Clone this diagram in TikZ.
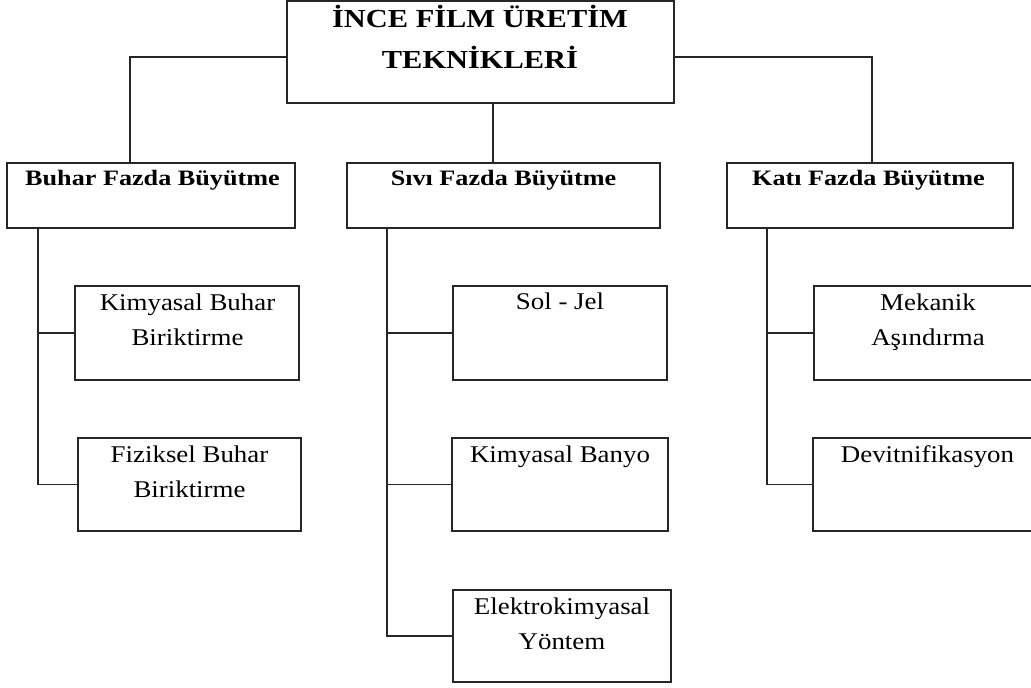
\documentclass[tikz,border=0pt]{standalone}
\usepackage{fontspec}
\setmainfont{Liberation Serif}
\newfontfamily\ttfont[FakeStretch=1.17]{Liberation Serif}
\newfontfamily\tfont[FakeStretch=1.19]{Liberation Serif}
\newfontfamily\cfont[FakeStretch=1.12]{Liberation Serif}
\begin{document}
\begin{tikzpicture}[x=1pt,y=-1pt,
  box/.style={draw=black!85, line width=1.1pt, rectangle, inner sep=0pt},
  conn/.style={draw=black!85, line width=1.1pt},
  titletext/.style={font=\ttfont\bfseries\fontsize{26}{41}\selectfont, align=center, anchor=base, inner sep=0pt},
  cattext/.style={font=\tfont\bfseries\fontsize{22}{25}\selectfont, anchor=base, inner sep=0pt},
  leaftext/.style={font=\cfont\fontsize{24}{34.5}\selectfont, align=center, anchor=base, inner sep=0pt}]
\clip (0,0) rectangle (1031,688);
\fill[white] (0,0) rectangle (1031,688);

% boxes
\node[box, minimum width=387pt, minimum height=102pt] (top) at (480.5,52) {};
\node[box, minimum width=288pt, minimum height=65pt] (buhar) at (151,195.5) {};
\node[box, minimum width=313pt, minimum height=65pt] (sivi) at (503.5,195.5) {};
\node[box, minimum width=286pt, minimum height=65pt] (kati) at (870,195.5) {};
\node[box, minimum width=224pt, minimum height=94pt] (kbb) at (187,333) {};
\node[box, minimum width=223pt, minimum height=93pt] (fbb) at (189.5,484.5) {};
\node[box, minimum width=214pt, minimum height=94pt] (soljel) at (560,333) {};
\node[box, minimum width=216pt, minimum height=93pt] (banyo) at (560,484.5) {};
\node[box, minimum width=218pt, minimum height=92pt] (elektro) at (562,636) {};
\node[box, minimum width=228pt, minimum height=94pt] (mekanik) at (928,333) {};
\node[box, minimum width=229pt, minimum height=93pt] (devit) at (927.5,484.5) {};

% texts (multi-line nodes: base anchor = last line's baseline)
\node[titletext] (ttop) at (480,68) {İNCE FİLM ÜRETİM\\TEKNİKLERİ};
\node[cattext] (tbuhar) at (152.5,185) {Buhar Fazda Büyütme};
\node[cattext] (tsivi) at (503.5,185) {Sıvı Fazda Büyütme};
\node[cattext] (tkati) at (868.5,185) {Katı Fazda Büyütme};
\node[leaftext] (tkbb) at (187.5,345) {Kimyasal Buhar\\Biriktirme};
\node[leaftext] (tfbb) at (189.5,497) {Fiziksel Buhar\\Biriktirme};
\node[leaftext] (tsoljel) at (560,309) {Sol - Jel};
\node[leaftext] (tbanyo) at (560,462) {Kimyasal Banyo};
\node[leaftext] (telektro) at (562,649) {Elektrokimyasal\\Yöntem};
\node[leaftext] (tmekanik) at (928,345) {Mekanik\\Aşındırma};
\node[leaftext] (tdevit) at (927.5,462) {Devitnifikasyon};

% helper coordinates
\coordinate (hl) at (0,57);
\coordinate (bx) at (130,0);
\coordinate (kx) at (872,0);
\coordinate (mx) at (493,0);
\coordinate (lx) at (38,0);
\coordinate (cx) at (387,0);
\coordinate (rx) at (767,0);

% connectors from title
\draw[conn] (top.west |- hl) -| (buhar.north -| bx);
\draw[conn] (top.east |- hl) -| (kati.north -| kx);
\draw[conn] (top.south -| mx) -- (sivi.north -| mx);

% left trunk
\draw[conn] (buhar.south -| lx) |- (fbb.west);
\draw[conn] (lx |- kbb.west) -- (kbb.west);

% middle trunk
\draw[conn] (sivi.south -| cx) |- (elektro.west);
\draw[conn] (cx |- soljel.west) -- (soljel.west);
\draw[conn] (cx |- banyo.west) -- (banyo.west);

% right trunk
\draw[conn] (kati.south -| rx) |- (devit.west);
\draw[conn] (rx |- mekanik.west) -- (mekanik.west);
\end{tikzpicture}
\end{document}
